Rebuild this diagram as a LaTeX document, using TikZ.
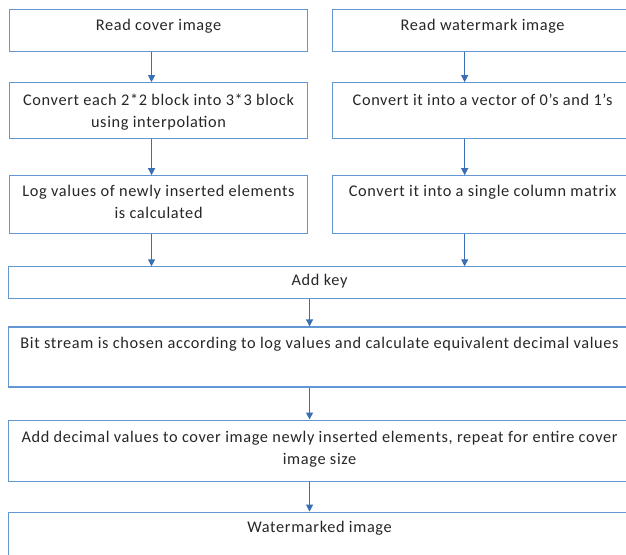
\documentclass[tikz,border=0pt]{standalone}
\usepackage{fontspec}
\setmainfont[LetterSpace=4]{Carlito}
\usetikzlibrary{positioning,arrows.meta}
\definecolor{boxline}{HTML}{6396D2}
\definecolor{arrowline}{HTML}{3A6EB5}
\tikzset{
  halfbox/.style = {rectangle, draw=boxline, line width=1.1pt, inner sep=0pt,
                    minimum width=298pt, anchor=north west},
  widebox/.style = {rectangle, draw=boxline, line width=1.1pt, inner sep=0pt,
                    minimum width=622pt, anchor=north west},
  lbl/.style     = {align=center, inner sep=0pt, text=black!85,
                    font=\fontsize{16.3pt}{22pt}\selectfont},
  flow/.style    = {-{Triangle[length=7pt,width=7pt]}, line width=1pt, draw=arrowline},
}

\begin{document}
\begin{tikzpicture}[x=1pt, y=-1pt]
  \clip (0,0) rectangle (626,554);

  % cover image column
  \node[halfbox, minimum height=42pt] (b1) at (9,9) {};
  \node[halfbox, minimum height=56pt, below=30pt of b1.south west, anchor=north west] (b3) {};
  \node[halfbox, minimum height=58pt, below=36pt of b3.south west, anchor=north west] (b5) {};

  % watermark column
  \node[halfbox, minimum width=300pt, minimum height=42pt, right=24pt of b1.north east, anchor=north west] (b2) {};
  \node[halfbox, minimum width=300pt, minimum height=56pt, below=30pt of b2.south west, anchor=north west] (b4) {};
  \node[halfbox, minimum width=300pt, minimum height=58pt, below=36pt of b4.south west, anchor=north west] (b6) {};

  % common steps
  \node[widebox, minimum height=32pt, below=32pt of b5.south west, anchor=north west, xshift=-1pt] (b7) {};
  \node[widebox, minimum height=60pt, below=27pt of b7.south west, anchor=north west] (b8) {};
  \node[widebox, minimum height=61pt, below=32pt of b8.south west, anchor=north west] (b9) {};
  \node[widebox, minimum height=62pt, below=30pt of b9.south west, anchor=north west] (b10) {};

  \node[lbl, below=10pt of b1.north] (t1) {Read cover image};
  \node[lbl, below=12pt of b3.north] (t3) {Convert each 2*2 block into 3*3 block\\using interpolation};
  \node[lbl, below=10pt of b5.north] (t5) {Log values of newly inserted elements\\is calculated};
  \node[lbl, below=10pt of b2.north] (t2) {Read watermark image};
  \node[lbl, below=12pt of b4.north] (t4) {Convert it into a vector of 0’s and 1’s};
  \node[lbl, below=10pt of b6.north] (t6) {Convert it into a single column matrix};
  \node[lbl, below=8pt of b7.north] (t7) {Add key};
  \node[lbl, below=11pt of b8.north] (t8) {Bit stream is chosen according to log values and calculate equivalent decimal values};
  \node[lbl, below=11pt of b9.north] (t9) {Add decimal values to cover image newly inserted elements, repeat for entire cover\\image size};
  \node[lbl, below=9pt of b10.north] (t10) {Watermarked image};

  \draw[flow] ([xshift=-7pt]b1.south) -- ([xshift=-7pt]b1.south |- b3.north);
  \draw[flow] ([xshift=-7pt]b3.south) -- ([xshift=-7pt]b3.south |- b5.north);
  \draw[flow] ([xshift=-7pt]b5.south) -- ([xshift=-7pt]b5.south |- b7.north);
  \draw[flow] ([xshift=-18pt]b2.south) -- ([xshift=-18pt]b2.south |- b4.north);
  \draw[flow] ([xshift=-18pt]b4.south) -- ([xshift=-18pt]b4.south |- b6.north);
  \draw[flow] ([xshift=-18pt]b6.south) -- ([xshift=-18pt]b6.south |- b7.north);
  \draw[flow] ([xshift=-10pt]b7.south) -- ([xshift=-10pt]b7.south |- b8.north);
  \draw[flow] ([xshift=-10pt]b8.south) -- ([xshift=-10pt]b8.south |- b9.north);
  \draw[flow] ([xshift=-10pt]b9.south) -- ([xshift=-10pt]b9.south |- b10.north);
\end{tikzpicture}
\end{document}
